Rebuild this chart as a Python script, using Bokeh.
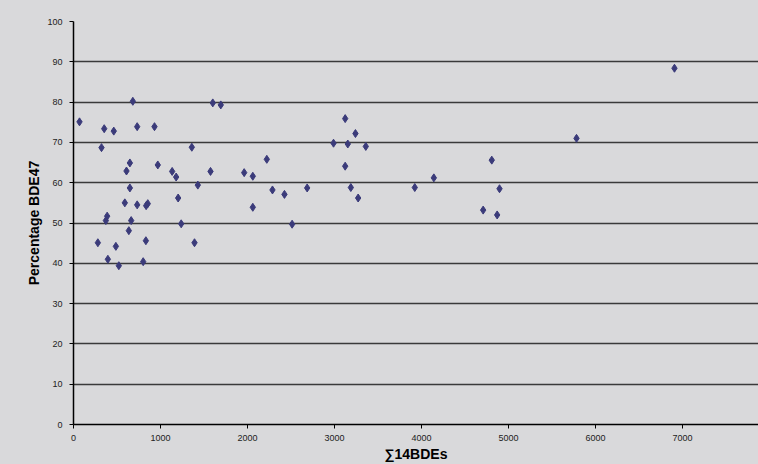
from bokeh.plotting import figure
from bokeh.models import Range1d, FixedTicker
from bokeh.embed import file_html
from bokeh.resources import INLINE

# data
sum_bdes = [69, 353, 463, 322, 682, 732, 931, 648, 609, 648, 590, 732, 835, 854,
            387, 372, 663, 636, 969, 1134, 1180, 1203, 1238, 1360, 1429, 1575, 1601,
            1693, 1962, 2061, 2061, 280, 395, 487, 521, 832, 801, 1391,
            2222, 2287, 2425, 2513, 2686, 2989, 3123, 3153, 3241, 3360, 3123, 3188,
            3272, 3923, 4142, 4808, 4897, 4709, 4870, 6908, 5782]
pct_bde47 = [75.1, 73.4, 72.8, 68.7, 80.2, 73.9, 73.9, 64.9, 62.9, 58.7, 55.0, 54.5, 54.3, 54.8,
             51.7, 50.6, 50.6, 48.1, 64.4, 62.8, 61.4, 56.2, 49.8, 68.8, 59.4, 62.8, 79.8,
             79.3, 62.5, 61.6, 53.9, 45.1, 41.0, 44.2, 39.4, 45.6, 40.4, 45.1,
             65.8, 58.2, 57.1, 49.7, 58.7, 69.8, 75.9, 69.6, 72.2, 69.0, 64.1, 58.8,
             56.2, 58.8, 61.2, 65.6, 58.5, 53.2, 52.0, 88.4, 71.0]
x_ticks = [0, 1000, 2000, 3000, 4000, 5000, 6000, 7000]
y_ticks = [0, 10, 20, 30, 40, 50, 60, 70, 80, 90, 100]

BG = "#d9d9db"

p = figure(width=758, height=464, output_backend="svg", toolbar_location=None,
           x_range=Range1d(0, 7874), y_range=Range1d(0, 100),
           min_border_left=73, min_border_right=0, min_border_top=21, min_border_bottom=39)
p.background_fill_color = BG
p.border_fill_color = BG
p.outline_line_color = None

p.scatter(sum_bdes, pct_bde47, marker="diamond", size=8, fill_color="#3b3b7a",
          line_color="#3b3b7a")

p.xgrid.grid_line_color = None
p.ygrid.grid_line_color = "#3a3a3a"
p.ygrid.grid_line_width = 1.5
p.ygrid.ticker = FixedTicker(ticks=y_ticks)

p.xaxis.ticker = FixedTicker(ticks=x_ticks)
p.yaxis.ticker = FixedTicker(ticks=y_ticks)
for ax in (p.xaxis[0], p.yaxis[0]):
    ax.axis_line_color = "black"
    ax.axis_line_width = 1.5
    ax.major_tick_line_color = "black"
    ax.major_tick_out = 4
    ax.major_tick_in = 0
    ax.minor_tick_line_color = None
    ax.major_label_text_font = "Liberation Sans"
    ax.major_label_text_font_size = "9px"
    ax.major_label_text_color = "#222222"
    ax.axis_label_text_font = "Liberation Sans"
    ax.axis_label_text_font_style = "bold"
    ax.axis_label_text_font_size = "14px"
    ax.axis_label_text_color = "black"
    ax.axis_label_standoff = 2

p.xaxis.major_label_standoff = 6
p.yaxis.major_label_standoff = 7
p.xaxis.axis_label = "\u221114BDEs"
p.yaxis.axis_label = "Percentage BDE47"

html = file_html(p, INLINE)
html = html.replace("<head>", "<head><style>body{background:%s;}</style>" % BG, 1)
open("out.html", "w").write(html)
